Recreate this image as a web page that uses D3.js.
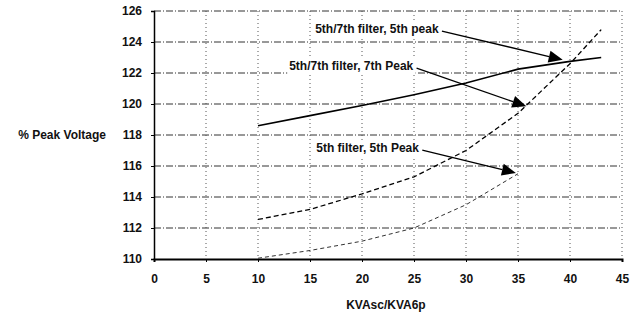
<!DOCTYPE html>
<html>
<head>
<meta charset="utf-8">
<script src="https://cdn.jsdelivr.net/npm/d3@7"></script>
<style>
  body { margin: 0; background: #fff; }
  svg text { font-family: "Liberation Sans", Arial, sans-serif; font-size: 12px; font-weight: bold; fill: #111; }
</style>
</head>
<body>
<svg id="chart" width="636" height="318"></svg>
<script>
// x values (KVAsc/KVA6p) and % peak voltage for each curve
var xFilter57 = [10, 15, 20, 25, 30, 35, 40, 43];
var peak5thFilter57 = [118.6, 119.25, 119.9, 120.6, 121.35, 122.25, 122.75, 123.0];
var peak7thFilter57 = [112.55, 113.2, 114.2, 115.3, 117.0, 119.4, 122.6, 124.8];
var xFilter5 = [10, 15, 20, 25, 30, 35];
var peak5thFilter5 = [110.05, 110.55, 111.15, 112.0, 113.5, 115.5];

var xTicks = [0, 5, 10, 15, 20, 25, 30, 35, 40, 45];
var yTicks = [110, 112, 114, 116, 118, 120, 122, 124, 126];

// annotation labels, text anchor (data units, baseline) and arrow tip
var annLabels = ["5th/7th filter, 5th peak", "5th/7th filter, 7th Peak", "5th filter, 5th Peak"];
var annTextX = [15.5, 13.0, 15.6];
var annTextY = [124.58, 122.19, 116.9];
var annTipX = [39.3, 35.8, 34.8];
var annTipY = [122.85, 119.85, 115.55];

var margin = { top: 11, left: 154 }
var width = 468, height = 248

var svg = d3.select("#chart")
var g = svg.append("g").attr("transform", "translate(" + margin.left + "," + margin.top + ")")

var xScale = d3.scaleLinear().domain([0, 45]).range([0, width])
var yScale = d3.scaleLinear().domain([110, 126]).range([height, 0])

// grid
g.append("g").selectAll("line")
  .data(yTicks.slice(1))
  .enter().append("line")
  .attr("x1", 0).attr("x2", width)
  .attr("y1", d => yScale(d)).attr("y2", d => yScale(d))
  .attr("stroke", "#333").attr("stroke-width", 1)
  .attr("stroke-dasharray", "7,2,1,2")

g.append("g").selectAll("line")
  .data(xTicks.slice(1))
  .enter().append("line")
  .attr("x1", d => xScale(d)).attr("x2", d => xScale(d))
  .attr("y1", 0).attr("y2", height)
  .attr("stroke", "#555").attr("stroke-width", 1)
  .attr("stroke-dasharray", "1,3")

// axes
var xAxis = d3.axisBottom(xScale).tickValues(xTicks).tickSize(3).tickPadding(12.5)
var yAxis = d3.axisLeft(yScale).tickValues(yTicks).tickSize(3).tickPadding(9)

var gx = g.append("g").attr("transform", "translate(0," + height + ")").call(xAxis)
var gy = g.append("g").call(yAxis)
gx.select(".domain").attr("stroke", "#000").attr("stroke-width", 2)
gy.select(".domain").attr("stroke", "#000").attr("stroke-width", 1.5)
gx.selectAll("text").attr("fill", "#111").style("font-size", "12px")
gy.selectAll("text").attr("fill", "#111").style("font-size", "12px")

// axis titles
svg.append("text")
  .attr("x", 106).attr("y", margin.top + yScale(118)).attr("dy", "0.35em")
  .attr("text-anchor", "end")
  .text("% Peak Voltage")

svg.append("text")
  .attr("x", margin.left + xScale(22.3)).attr("y", 309)
  .attr("text-anchor", "middle")
  .text("KVAsc/KVA6p")

// curves
var line = d3.line().x(d => xScale(d[0])).y(d => yScale(d[1]))

g.append("path")
  .datum(d3.zip(xFilter57, peak5thFilter57))
  .attr("d", line).attr("fill", "none")
  .attr("stroke", "#000").attr("stroke-width", 1.6)

g.append("path")
  .datum(d3.zip(xFilter57, peak7thFilter57))
  .attr("d", line).attr("fill", "none")
  .attr("stroke", "#000").attr("stroke-width", 1.3)
  .attr("stroke-dasharray", "5,3")

g.append("path")
  .datum(d3.zip(xFilter5, peak5thFilter5))
  .attr("d", line).attr("fill", "none")
  .attr("stroke", "#333").attr("stroke-width", 1)
  .attr("stroke-dasharray", "4,3")

// annotations with arrows
var ann = g.selectAll(".ann")
  .data(annLabels.map((t, i) => ({ text: t, tx: annTextX[i], ty: annTextY[i], px: annTipX[i], py: annTipY[i] })))
  .enter().append("g").attr("class", "ann")

ann.each(function (d) {
  var sel = d3.select(this)
  var bg = sel.append("rect").attr("fill", "#fff")
  var txt = sel.append("text")
    .attr("x", xScale(d.tx)).attr("y", yScale(d.ty))
    .text(d.text)
  var bb = txt.node().getBBox()
  bg.attr("x", bb.x - 2).attr("y", bb.y - 1).attr("width", bb.width + 4).attr("height", bb.height + 2)

  var x0 = bb.x + bb.width + 3, y0 = yScale(d.ty) - 2
  var x1 = xScale(d.px), y1 = yScale(d.py)
  var ang = Math.atan2(y1 - y0, x1 - x0)
  var headLen = 14, headHalf = 6
  var bx = x1 - headLen * Math.cos(ang), by = y1 - headLen * Math.sin(ang)
  sel.append("line")
    .attr("x1", x0).attr("y1", y0).attr("x2", bx).attr("y2", by)
    .attr("stroke", "#000").attr("stroke-width", 1.3)
  var pts = [
    [x1, y1],
    [bx + headHalf * Math.sin(ang), by - headHalf * Math.cos(ang)],
    [bx - headHalf * Math.sin(ang), by + headHalf * Math.cos(ang)]
  ]
  sel.append("path").attr("d", "M" + pts.join("L") + "Z").attr("fill", "#000")
})
</script>
</body>
</html>
